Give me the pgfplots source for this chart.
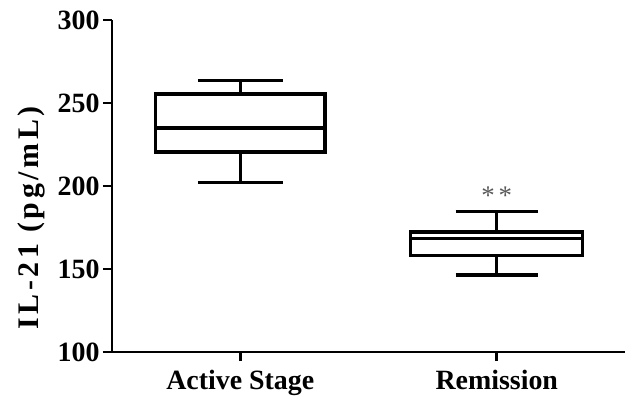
\documentclass[border=0pt]{standalone}
\usepackage{fontspec}
\setmainfont{Liberation Serif}
\usepackage{pgfplots}
\pgfplotsset{compat=1.18}
\usepgfplotslibrary{statistics}
\begin{document}
\begin{tikzpicture}
\useasboundingbox (-112bp,-44bp) rectangle (518bp,352bp);
\begin{axis}[
  scale only axis,
  width=513bp, height=332bp,
  xmin=0.5, xmax=2.5,
  ymin=100, ymax=300,
  axis x line*=bottom, axis y line*=left,
  axis line style={line width=2.8bp, -},
  xtick={1,2}, xticklabels={Active Stage, Remission},
  ytick={100,150,200,250,300},
  tick style={line width=2.8bp, black},
  tick align=outside,
  major tick length=9bp,
  ticklabel style={font=\fontsize{28}{30}\selectfont\bfseries},
  /pgf/number format/assume math mode=true,
  yticklabel style={xshift=0bp},
  xticklabel style={yshift=-6bp},
  ylabel={\addfontfeature{LetterSpace=12}IL-21 (pg/mL)},
  ylabel style={font=\fontsize{30}{32}\selectfont\bfseries, at={(axis description cs:-0.158,0.404)}, anchor=center},
  boxplot/draw direction=y,
  clip=false,
]
\addplot+[black, line width=3.3bp, mark=none, solid,
  boxplot prepared={median=235, upper quartile=255.5, lower quartile=220.5,
    upper whisker=263.5, lower whisker=202, draw position=1,
    box extend=0.66, whisker extend=0.33}] coordinates {};
\addplot+[black, line width=3.3bp, mark=none, solid,
  boxplot prepared={median=168.5, upper quartile=172.3, lower quartile=158.2,
    upper whisker=184.7, lower whisker=146.4, draw position=2,
    box extend=0.67, whisker extend=0.32}] coordinates {};
\node[text=black!65, font=\fontsize{27}{29}\selectfont\addfontfeature{LetterSpace=15}] at (axis cs:2,194) {**};
\end{axis}
\end{tikzpicture}
\end{document}
